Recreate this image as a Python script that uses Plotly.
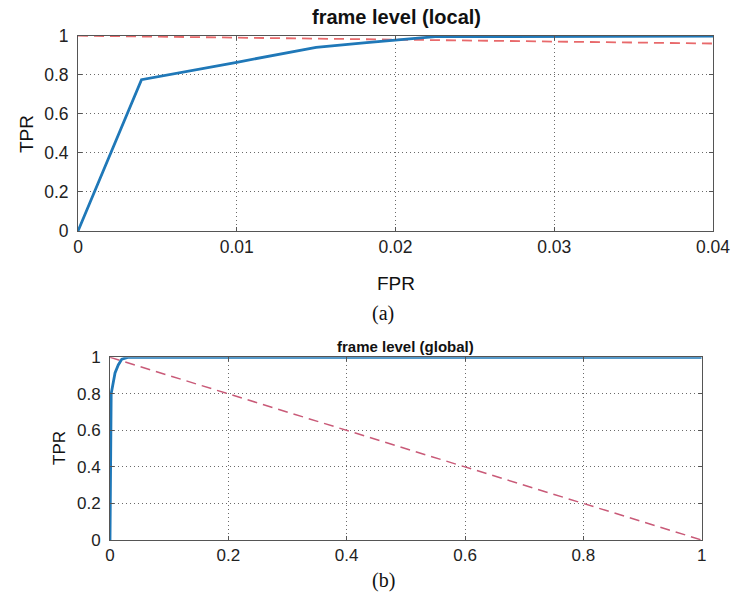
import plotly.graph_objects as go

# local (zoomed) ROC
local_fpr = [0, 0.004, 0.01, 0.015, 0.018, 0.02, 0.0225, 0.04]
local_tpr = [0, 0.775, 0.864, 0.94, 0.963, 0.978, 0.995, 0.998]

# global ROC
global_fpr = [0, 0.002, 0.0085, 0.014, 0.02, 0.03, 1.0]
global_tpr = [0, 0.8, 0.914, 0.958, 0.99, 1.0, 1.0]

# EER reference line
eer_x = [0, 1]
eer_y = [1, 0]

local_xticks = [0, 0.01, 0.02, 0.03, 0.04]
local_xlabels = ["0", "0.01", "0.02", "0.03", "0.04"]
global_xticks = [0, 0.2, 0.4, 0.6, 0.8, 1]
global_xlabels = ["0", "0.2", "0.4", "0.6", "0.8", "1"]
yticks = [0, 0.2, 0.4, 0.6, 0.8, 1]
ylabels = ["0", "0.2", "0.4", "0.6", "0.8", "1"]

BLUE = "#1f78b8"
FONT = "Liberation Sans, Arial, sans-serif"

fig = go.Figure()

fig.add_trace(go.Scatter(x=eer_x, y=eer_y, mode="lines", xaxis="x", yaxis="y",
                         line=dict(color="#e8696b", width=1.8, dash="10px,6px"),
                         showlegend=False, hoverinfo="skip"))
fig.add_trace(go.Scatter(x=local_fpr, y=local_tpr, mode="lines", xaxis="x", yaxis="y",
                         line=dict(color=BLUE, width=2.8), cliponaxis=False,
                         showlegend=False, hoverinfo="skip"))
fig.add_trace(go.Scatter(x=eer_x, y=eer_y, mode="lines", xaxis="x2", yaxis="y2",
                         line=dict(color="#c95a78", width=1.5, dash="10px,6px"),
                         showlegend=False, hoverinfo="skip"))
fig.add_trace(go.Scatter(x=global_fpr, y=global_tpr, mode="lines", xaxis="x2", yaxis="y2",
                         line=dict(color=BLUE, width=2.8), cliponaxis=False,
                         showlegend=False, hoverinfo="skip"))

def axis_common(size):
    return dict(showline=True, linecolor="#555555", linewidth=1, mirror="ticks",
                ticks="inside", ticklen=4, tickcolor="#555555", automargin=False,
                showgrid=True, gridcolor="#6a6a6a", gridwidth=1, griddash="1px,3px",
                zeroline=False, tickfont=dict(family=FONT, size=size, color="#222222"))

fig.update_layout(
    template="none",
    width=733, height=606,
    margin=dict(l=0, r=0, t=0, b=0, autoexpand=False),
    paper_bgcolor="white", plot_bgcolor="white",
    xaxis=dict(domain=[78/733, 713/733], range=[0, 0.04], anchor="y",
               tickvals=local_xticks, ticktext=local_xlabels, **axis_common(17.5)),
    yaxis=dict(domain=[1-231/606, 1-35.7/606], range=[0, 1], anchor="x",
               tickvals=yticks, ticktext=ylabels, ticklabelstandoff=5, **axis_common(17.5)),
    xaxis2=dict(domain=[110/733, 701.7/733], range=[0, 1], anchor="y2",
                tickvals=global_xticks, ticktext=global_xlabels, **axis_common(17)),
    yaxis2=dict(domain=[1-540/606, 1-357.3/606], range=[0, 1], anchor="x2",
                tickvals=yticks, ticktext=ylabels, ticklabelstandoff=5, **axis_common(17)),
)

def ann(text, x, y, size, bold=False, family=FONT, angle=0):
    fig.add_annotation(text=f"<b>{text}</b>" if bold else text, x=x/733, y=1-y/606,
                       xref="paper", yref="paper", showarrow=False, textangle=angle,
                       font=dict(family=family, size=size, color="#111111"),
                       xanchor="center", yanchor="middle")

ann("frame level (local)", 396, 17, 20, bold=True)
ann("TPR", 26, 134, 19, angle=-90)
ann("FPR", 396, 283, 19)
ann("(a)", 383, 313, 20, family="Liberation Serif, Times New Roman, serif")
ann("frame level (global)", 405, 346, 15, bold=True)
ann("TPR", 59, 448, 17, angle=-90)
ann("(b)", 383, 580, 20, family="Liberation Serif, Times New Roman, serif")

fig.write_html(
    "out.html",
    config={"displayModeBar": False},
    post_script="document.body.style.margin='0';"
                "document.documentElement.style.overflow='hidden';",
)
